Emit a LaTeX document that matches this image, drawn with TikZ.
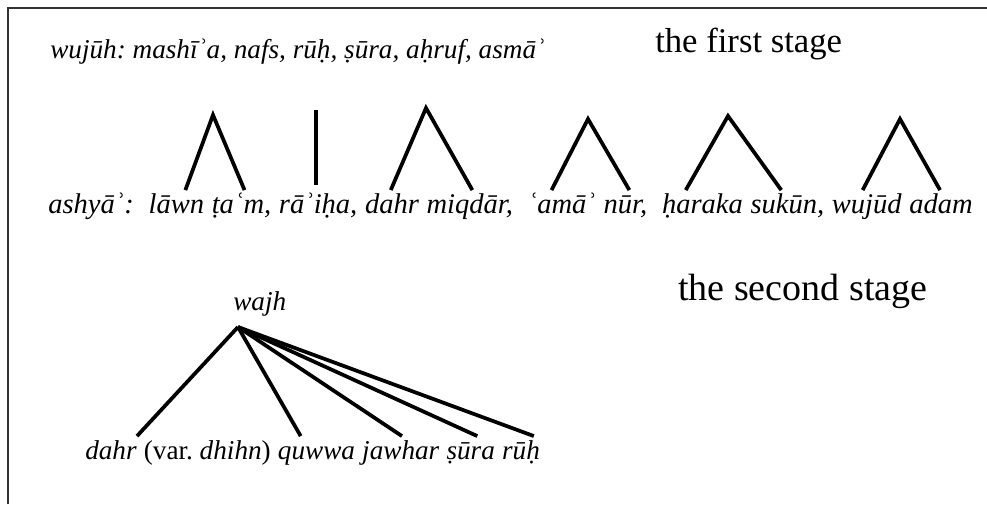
\documentclass[tikz,border=0pt]{standalone}
\usepackage{fontspec}
\setmainfont{Liberation Serif}
\frenchspacing
\usetikzlibrary{positioning,calc}
\tikzset{
  translit/.style={font=\itshape\fontsize{20.4}{24}\selectfont, inner sep=0pt, text height=17pt, text depth=5pt},
  bigtranslit/.style={translit, font=\itshape\fontsize{21.4}{25}\selectfont},
  heading/.style={font=\fontsize{26}{30}\selectfont, inner sep=0pt},
  branch/.style={line width=2.8pt},
}
\begin{document}
\begin{tikzpicture}[x=0.75pt,y=-0.75pt]
\useasboundingbox (0,0) rectangle (987,504);
\draw[line width=1pt, black!80] (8,504) -- (8,8) -- (987,8);

% the first stage
\node[translit, anchor=base west] (wujuh) at (50,58) {wujūh: mashīʾa, nafs, rūḥ, ṣūra, aḥruf, asmāʾ};
\node[heading, anchor=base west] (first) at (655,52) {the first stage};

\node[bigtranslit, anchor=base west] (ashya) at (48,213) {ashyāʾ:};
\node[bigtranslit, base right=10.7pt of ashya] (lawn) {lāwn};
\node[bigtranslit, base right=5.35pt of lawn] (tam) {ṭaʿm,};
\node[bigtranslit, base right=5.35pt of tam] (raiha) {rāʾiḥa,};
\node[bigtranslit, base right=5.35pt of raiha] (dahr) {dahr};
\node[bigtranslit, base right=5.35pt of dahr] (miqdar) {miqdār,};
\node[bigtranslit, base right=10.7pt of miqdar] (ama) {ʿamāʾ};
\node[bigtranslit, base right=5.35pt of ama] (nur) {nūr,};
\node[bigtranslit, base right=10.7pt of nur] (haraka) {ḥaraka};
\node[bigtranslit, base right=5.35pt of haraka] (sukun) {sukūn,};
\node[bigtranslit, base right=5.35pt of sukun] (wujud) {wujūd};
\node[bigtranslit, base right=5.35pt of wujud] (adam) {adam};

\coordinate (top1) at (213,115);
\coordinate (top2) at (316,110);
\coordinate (top3) at (426,108);
\coordinate (top4) at (588,119);
\coordinate (top5) at (728,116);
\coordinate (top6) at (900,119);

\draw[branch] ($(lawn.north west)+(37,0)$) -- (top1) -- ($(tam.north west)+(33,0)$);
\draw[branch] (top2) -- ($(top2 |- raiha.north)+(0,-5)$);
\draw[branch] ($(dahr.north west)+(26,0)$) -- (top3) -- ($(miqdar.north west)+(46,0)$);
\draw[branch] ($(ama.north west)+(24,0)$) -- (top4) -- ($(nur.north west)+(26,0)$);
\draw[branch] ($(haraka.north west)+(24,0)$) -- (top5) -- ($(sukun.north west)+(31,0)$);
\draw[branch] ($(wujud.north west)+(31,0)$) -- (top6) -- ($(adam.north west)+(31,0)$);

% the second stage
\node[heading, anchor=base west, font=\fontsize{28.5}{32}\selectfont] (second) at (678,300) {the second stage};
\node[translit, anchor=base west] (wajh) at (233,310) {wajh};
\coordinate (root) at (238,327);

\node[translit, anchor=base west] (dahr2) at (85,459) {dahr};
\node[translit, base right=5pt of dahr2] (var) {\upshape(var. \itshape dhihn\upshape)};
\node[translit, base right=5pt of var] (quwwa) {quwwa};
\node[translit, base right=5pt of quwwa] (jawhar) {jawhar};
\node[translit, base right=5pt of jawhar] (sura) {ṣūra};
\node[translit, base right=5pt of sura] (ruh) {rūḥ};

\draw[branch] (root) -- ($(dahr2.north west)+(52,0)$);
\draw[branch] (root) -- ($(quwwa.north west)+(23,0)$);
\draw[branch] (root) -- ($(jawhar.north west)+(40,0)$);
\draw[branch] (root) -- ($(sura.north west)+(31,0)$);
\draw[branch] (root) -- ($(ruh.north west)+(32,0)$);
\end{tikzpicture}
\end{document}
